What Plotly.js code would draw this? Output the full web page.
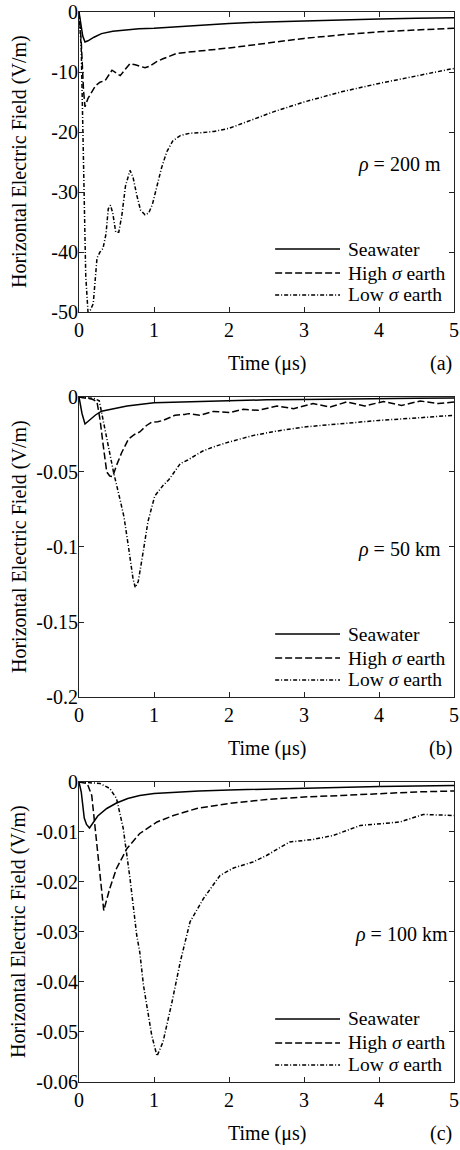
<!DOCTYPE html>
<html>
<head>
<meta charset="utf-8">
<script src="https://cdn.plot.ly/plotly-3.0.1.min.js"></script>
<style>html,body{margin:0;padding:0;background:#fff;}#chart{width:460px;height:1150px;}</style>
</head>
<body>
<div id="chart"></div>
<script>
// ---------- Data ----------
const seriesNames = ["Seawater", "High \u03c3 earth", "Low \u03c3 earth"];
const legendLabels = ["Seawater", "High <i>\u03c3</i> earth", "Low <i>\u03c3</i> earth"];
const panelLabels = ["(a)", "(b)", "(c)"];
const rhoLabels = ["<i>\u03c1</i> = 200 m", "<i>\u03c1</i> = 50 km", "<i>\u03c1</i> = 100 km"];
const xTicks = [0, 1, 2, 3, 4, 5];

// Panel (a) rho = 200 m
const tA_sea = [0, 0.02, 0.05, 0.08, 0.12, 0.2, 0.3, 0.45, 0.6, 0.8, 1.0, 1.5, 2, 2.5, 3, 3.5, 4, 4.5, 5];
const vA_sea = [0, -1.5, -4, -5, -4.8, -4.2, -3.6, -3.2, -3.0, -2.8, -2.7, -2.3, -1.9, -1.65, -1.45, -1.3, -1.15, -1.05, -0.95];
const tA_high = [0, 0.03, 0.06, 0.08, 0.12, 0.17, 0.22, 0.28, 0.35, 0.44, 0.5, 0.55, 0.62, 0.68, 0.75, 0.88, 0.95, 1.03, 1.12, 1.21, 1.3, 1.45, 1.6, 2, 2.5, 3, 3.5, 4, 4.5, 5];
const vA_high = [0, -5, -13, -15.8, -14.4, -13.3, -12.3, -11.7, -11.4, -9.7, -10.2, -10.6, -9.5, -8.6, -8.8, -9.3, -9.0, -8.3, -7.8, -7.3, -6.9, -6.7, -6.5, -6.0, -5.2, -4.4, -3.8, -3.3, -3.0, -2.7];
const tA_low = [0, 0.03, 0.06, 0.09, 0.12, 0.15, 0.19, 0.24, 0.28, 0.32, 0.36, 0.39, 0.42, 0.45, 0.49, 0.53, 0.57, 0.62, 0.68, 0.72, 0.77, 0.82, 0.88, 0.93, 0.98, 1.03, 1.1, 1.17, 1.25, 1.35, 1.48, 1.65, 1.8, 2.0, 2.33, 2.6, 3.0, 3.5, 4.0, 4.5, 5.0];
const vA_low = [0, -6, -25, -44, -50, -49.7, -48.6, -41, -40, -39.4, -37, -32.8, -32.2, -33.5, -36.7, -36.7, -34, -29, -26.4, -27.5, -30.5, -33, -33.8, -33.5, -32, -29.5, -26, -23.3, -21.5, -20.6, -20.2, -20.1, -19.9, -19.4, -17.8, -16.6, -15, -13.3, -11.9, -10.6, -9.4];
const yTicksA = [0, -10, -20, -30, -40, -50];
const yTextA = ["0", "-10", "-20", "-30", "-40", "-50"];

// Panel (b) rho = 50 km
const tB_sea = [0, 0.04, 0.08, 0.15, 0.22, 0.3, 0.45, 0.64, 1.0, 1.5, 2, 2.5, 3, 3.5, 4, 4.5, 5];
const vB_sea = [0, -0.011, -0.018, -0.015, -0.012, -0.0095, -0.0078, -0.006, -0.0038, -0.003, -0.0022, -0.0019, -0.0016, -0.0012, -0.0009, -0.0008, -0.0006];
const tB_high = [0, 0.1, 0.18, 0.24, 0.28, 0.33, 0.37, 0.41, 0.45, 0.5, 0.57, 0.66, 0.74, 0.81, 0.9, 0.97, 1.05, 1.12, 1.2, 1.28, 1.41, 1.46, 1.61, 1.79, 2.01, 2.19, 2.39, 2.64, 2.86, 3.12, 3.35, 3.57, 3.81, 4.06, 4.3, 4.55, 4.79, 5.0];
const vB_high = [0, -0.001, -0.0015, -0.0033, -0.015, -0.035, -0.05, -0.0527, -0.053, -0.0456, -0.037, -0.028, -0.025, -0.0233, -0.019, -0.0167, -0.0165, -0.0156, -0.014, -0.0122, -0.0116, -0.0111, -0.0122, -0.0096, -0.0104, -0.0082, -0.0089, -0.006, -0.0078, -0.0044, -0.0067, -0.0033, -0.006, -0.003, -0.0056, -0.0027, -0.0044, -0.0033];
const tB_low = [0, 0.1, 0.2, 0.27, 0.3, 0.37, 0.46, 0.55, 0.6, 0.66, 0.72, 0.75, 0.79, 0.85, 0.92, 1.01, 1.12, 1.2, 1.35, 1.45, 1.52, 1.65, 1.79, 2.0, 2.33, 2.6, 3.0, 3.5, 4.0, 4.5, 5.0];
const vB_low = [0, -0.0005, -0.001, -0.0025, -0.01, -0.028, -0.05, -0.069, -0.08, -0.1, -0.121, -0.127, -0.123, -0.105, -0.083, -0.066, -0.059, -0.055, -0.0444, -0.042, -0.04, -0.036, -0.0333, -0.03, -0.0256, -0.023, -0.02, -0.0178, -0.0156, -0.014, -0.0122];
const yTicksB = [0, -0.05, -0.1, -0.15, -0.2];
const yTextB = ["0", "-0.05", "-0.1", "-0.15", "-0.2"];

// Panel (c) rho = 100 km
const tC_sea = [0, 0.03, 0.07, 0.1, 0.14, 0.18, 0.25, 0.37, 0.5, 0.65, 0.81, 1.0, 1.3, 1.6, 2.0, 2.5, 3.0, 3.5, 4.0, 4.5, 5.0];
const vC_sea = [0, -0.002, -0.0072, -0.0085, -0.0092, -0.0083, -0.0068, -0.0053, -0.0042, -0.0033, -0.0027, -0.0023, -0.002, -0.0018, -0.0016, -0.0014, -0.0012, -0.001, -0.0009, -0.0008, -0.0007];
const tC_high = [0, 0.05, 0.11, 0.17, 0.24, 0.28, 0.33, 0.41, 0.5, 0.64, 0.81, 1.04, 1.26, 1.57, 2.0, 2.5, 3.0, 3.5, 4.0, 4.5, 5.0];
const vC_high = [0, -0.0001, -0.0003, -0.0027, -0.0127, -0.0193, -0.0257, -0.0213, -0.0173, -0.0133, -0.0103, -0.008, -0.0067, -0.0053, -0.0043, -0.0035, -0.003, -0.0027, -0.0023, -0.002, -0.0018];
const tC_low = [0, 0.15, 0.28, 0.41, 0.5, 0.59, 0.68, 0.77, 0.81, 0.86, 0.97, 1.04, 1.12, 1.24, 1.35, 1.48, 1.66, 1.88, 2.06, 2.32, 2.5, 2.81, 3.12, 3.39, 3.75, 4.06, 4.28, 4.59, 5.0];
const vC_low = [0, -0.0001, -0.0003, -0.0013, -0.0033, -0.0093, -0.0193, -0.0307, -0.034, -0.0407, -0.0507, -0.0548, -0.052, -0.044, -0.036, -0.028, -0.0233, -0.0187, -0.0172, -0.016, -0.0147, -0.012, -0.0115, -0.0107, -0.0087, -0.0083, -0.008, -0.0065, -0.0067];
const yTicksC = [0, -0.01, -0.02, -0.03, -0.04, -0.05, -0.06];
const yTextC = ["0", "-0.01", "-0.02", "-0.03", "-0.04", "-0.05", "-0.06"];

// ---------- Styling ----------
const FONT = "Liberation Serif, Times New Roman, serif";
const FS_TICK = 20;
const FS_TITLE = 20;
const FS_LEG = 19.5;
const dashes = ["solid", "7px,3px", "4px,2px,1px,2px"];
const lineW = 1.5;

const panels = [
  {t: [tA_sea, tA_high, tA_low], v: [vA_sea, vA_high, vA_low], ticks: yTicksA, text: yTextA, range: [-50, 0], dom: [0.7196, 1]},
  {t: [tB_sea, tB_high, tB_low], v: [vB_sea, vB_high, vB_low], ticks: yTicksB, text: yTextB, range: [-0.2, 0], dom: [0.3598, 0.6402]},
  {t: [tC_sea, tC_high, tC_low], v: [vC_sea, vC_high, vC_low], ticks: yTicksC, text: yTextC, range: [-0.06, 0], dom: [0, 0.2804]}
];

const traces = [];
const layout = {
  width: 460, height: 1150,
  margin: {l: 79, r: 6, t: 12, b: 68},
  paper_bgcolor: "#fff", plot_bgcolor: "#fff",
  font: {family: FONT, size: FS_TITLE, color: "#000"},
  showlegend: false,
  annotations: [], shapes: []
};

const rhoX = [0.97, 0.97, 0.988];

panels.forEach((p, i) => {
  const sfx = i === 0 ? "" : String(i + 1);
  const xa = "x" + sfx, ya = "y" + sfx;
  for (let s = 0; s < 3; s++) {
    traces.push({
      type: "scatter", mode: "lines", name: seriesNames[s],
      x: p.t[s], y: p.v[s], xaxis: xa, yaxis: ya,
      line: {color: "#000", width: lineW, dash: dashes[s]}
    });
  }
  const axCommon = {
    showgrid: false, zeroline: false, showline: true, linecolor: "#222", linewidth: 1,
    mirror: "ticks", ticks: "inside", ticklen: 5, tickwidth: 1, tickcolor: "#222",
    ticklabeloverflow: "allow",
    tickfont: {family: FONT, size: FS_TICK, color: "#000"}
  };
  layout["xaxis" + sfx] = Object.assign({}, axCommon, {
    domain: [0, 1], anchor: ya, range: [0, 5], tickvals: xTicks,
    ticktext: xTicks.map(String)
  });
  layout["yaxis" + sfx] = Object.assign({}, axCommon, {
    domain: p.dom, anchor: xa, range: p.range, tickvals: p.ticks, ticktext: p.text,
    ticklabelstandoff: -4
  });
  const xd = xa + " domain", yd = ya + " domain";
  layout.annotations.push({xref: xd, yref: yd, x: 0.5, y: -0.173, xanchor: "center", yanchor: "middle",
    text: "Time (\u03bcs)", showarrow: false, font: {family: FONT, size: FS_TITLE}});
  layout.annotations.push({xref: xd, yref: yd, x: 1.0, y: -0.173, xanchor: "right", yanchor: "middle",
    text: panelLabels[i], showarrow: false, font: {family: FONT, size: FS_TITLE}});
  layout.annotations.push({xref: xd, yref: yd, x: -0.16, y: 0.5, xanchor: "center", yanchor: "middle",
    textangle: -90, text: "Horizontal Electric Field (V/m)", showarrow: false, font: {family: FONT, size: FS_TITLE}});
  layout.annotations.push({xref: xd, yref: yd, x: rhoX[i], y: 0.493, xanchor: "right", yanchor: "middle",
    text: rhoLabels[i], showarrow: false, font: {family: FONT, size: FS_TITLE}});
  const legY = [0.21, 0.13, 0.057];
  for (let s = 0; s < 3; s++) {
    layout.shapes.push({type: "line", xref: xd, yref: yd, x0: 0.523, x1: 0.696, y0: legY[s], y1: legY[s],
      line: {color: "#000", width: lineW, dash: dashes[s]}});
    layout.annotations.push({xref: xd, yref: yd, x: 0.713, y: legY[s], xanchor: "left", yanchor: "middle",
      text: legendLabels[s], showarrow: false, font: {family: FONT, size: FS_LEG}});
  }
});

Plotly.newPlot("chart", traces, layout, {staticPlot: true, displayModeBar: false});
</script>
</body>
</html>
